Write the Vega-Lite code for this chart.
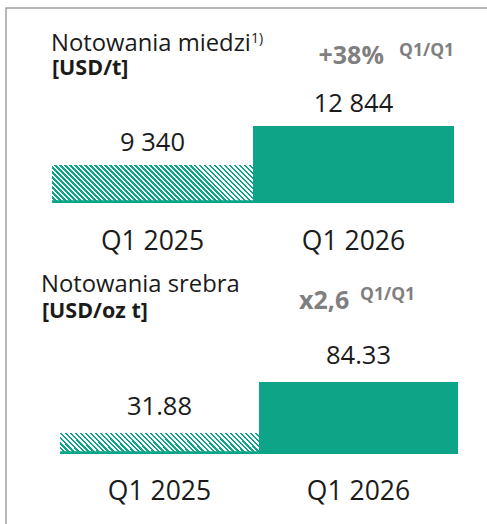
{
"$schema": "https://vega.github.io/schema/vega-lite/v6.json",
"width": 481,
"height": 516,
"autosize": "none",
"padding": {"left": 6, "top": 8, "right": 0, "bottom": 0},
"background": "white",
"config": {
  "view": {"stroke": "#a0a0a0", "strokeWidth": 1.5, "strokeDash": [481, 997, 516]},
  "text": {"font": "Open Sans", "color": "#1b1b1b", "baseline": "alphabetic"},
  "axis": {"disable": true}
},
"datasets": {
  "miedz": [
    {"period": "Q1 2025", "value": 9340, "label": "9 340"},
    {"period": "Q1 2026", "value": 12844, "label": "12 844"}
  ],
  "srebro": [
    {"period": "Q1 2025", "value": 31.88, "label": "31.88"},
    {"period": "Q1 2026", "value": 84.33, "label": "84.33"}
  ]
},
"layer": [
{
  "data": {"name": "miedz"},
  "layer": [
    {
      "transform": [{"filter": "datum.period === 'Q1 2025'"}],
      "mark": {"type": "bar", "fill": {"gradient": "linear", "x1": 0, "y1": 1, "x2": 1.14802, "y2": 0.78297, "stops": [
{"offset":0,"color":"#0da488"},{"offset":0.01146,"color":"#0da488"},{"offset":0.01146,"color":"#fff"},{"offset":0.02083,"color":"#fff"},
{"offset":0.02083,"color":"#0da488"},{"offset":0.03229,"color":"#0da488"},{"offset":0.03229,"color":"#fff"},{"offset":0.04167,"color":"#fff"},
{"offset":0.04167,"color":"#0da488"},{"offset":0.05312,"color":"#0da488"},{"offset":0.05312,"color":"#fff"},{"offset":0.0625,"color":"#fff"},
{"offset":0.0625,"color":"#0da488"},{"offset":0.07396,"color":"#0da488"},{"offset":0.07396,"color":"#fff"},{"offset":0.08333,"color":"#fff"},
{"offset":0.08333,"color":"#0da488"},{"offset":0.09479,"color":"#0da488"},{"offset":0.09479,"color":"#fff"},{"offset":0.10417,"color":"#fff"},
{"offset":0.10417,"color":"#0da488"},{"offset":0.11562,"color":"#0da488"},{"offset":0.11562,"color":"#fff"},{"offset":0.125,"color":"#fff"},
{"offset":0.125,"color":"#0da488"},{"offset":0.13646,"color":"#0da488"},{"offset":0.13646,"color":"#fff"},{"offset":0.14583,"color":"#fff"},
{"offset":0.14583,"color":"#0da488"},{"offset":0.15729,"color":"#0da488"},{"offset":0.15729,"color":"#fff"},{"offset":0.16667,"color":"#fff"},
{"offset":0.16667,"color":"#0da488"},{"offset":0.17812,"color":"#0da488"},{"offset":0.17812,"color":"#fff"},{"offset":0.1875,"color":"#fff"},
{"offset":0.1875,"color":"#0da488"},{"offset":0.19896,"color":"#0da488"},{"offset":0.19896,"color":"#fff"},{"offset":0.20833,"color":"#fff"},
{"offset":0.20833,"color":"#0da488"},{"offset":0.21979,"color":"#0da488"},{"offset":0.21979,"color":"#fff"},{"offset":0.22917,"color":"#fff"},
{"offset":0.22917,"color":"#0da488"},{"offset":0.24062,"color":"#0da488"},{"offset":0.24062,"color":"#fff"},{"offset":0.25,"color":"#fff"},
{"offset":0.25,"color":"#0da488"},{"offset":0.26146,"color":"#0da488"},{"offset":0.26146,"color":"#fff"},{"offset":0.27083,"color":"#fff"},
{"offset":0.27083,"color":"#0da488"},{"offset":0.28229,"color":"#0da488"},{"offset":0.28229,"color":"#fff"},{"offset":0.29167,"color":"#fff"},
{"offset":0.29167,"color":"#0da488"},{"offset":0.30312,"color":"#0da488"},{"offset":0.30312,"color":"#fff"},{"offset":0.3125,"color":"#fff"},
{"offset":0.3125,"color":"#0da488"},{"offset":0.32396,"color":"#0da488"},{"offset":0.32396,"color":"#fff"},{"offset":0.33333,"color":"#fff"},
{"offset":0.33333,"color":"#0da488"},{"offset":0.34479,"color":"#0da488"},{"offset":0.34479,"color":"#fff"},{"offset":0.35417,"color":"#fff"},
{"offset":0.35417,"color":"#0da488"},{"offset":0.36562,"color":"#0da488"},{"offset":0.36562,"color":"#fff"},{"offset":0.375,"color":"#fff"},
{"offset":0.375,"color":"#0da488"},{"offset":0.38646,"color":"#0da488"},{"offset":0.38646,"color":"#fff"},{"offset":0.39583,"color":"#fff"},
{"offset":0.39583,"color":"#0da488"},{"offset":0.40729,"color":"#0da488"},{"offset":0.40729,"color":"#fff"},{"offset":0.41667,"color":"#fff"},
{"offset":0.41667,"color":"#0da488"},{"offset":0.42812,"color":"#0da488"},{"offset":0.42812,"color":"#fff"},{"offset":0.4375,"color":"#fff"},
{"offset":0.4375,"color":"#0da488"},{"offset":0.44896,"color":"#0da488"},{"offset":0.44896,"color":"#fff"},{"offset":0.45833,"color":"#fff"},
{"offset":0.45833,"color":"#0da488"},{"offset":0.46979,"color":"#0da488"},{"offset":0.46979,"color":"#fff"},{"offset":0.47917,"color":"#fff"},
{"offset":0.47917,"color":"#0da488"},{"offset":0.49062,"color":"#0da488"},{"offset":0.49062,"color":"#fff"},{"offset":0.5,"color":"#fff"},
{"offset":0.5,"color":"#0da488"},{"offset":0.51146,"color":"#0da488"},{"offset":0.51146,"color":"#fff"},{"offset":0.52083,"color":"#fff"},
{"offset":0.52083,"color":"#0da488"},{"offset":0.53229,"color":"#0da488"},{"offset":0.53229,"color":"#fff"},{"offset":0.54167,"color":"#fff"},
{"offset":0.54167,"color":"#0da488"},{"offset":0.55312,"color":"#0da488"},{"offset":0.55312,"color":"#fff"},{"offset":0.5625,"color":"#fff"},
{"offset":0.5625,"color":"#0da488"},{"offset":0.57396,"color":"#0da488"},{"offset":0.57396,"color":"#fff"},{"offset":0.58333,"color":"#fff"},
{"offset":0.58333,"color":"#0da488"},{"offset":0.59479,"color":"#0da488"},{"offset":0.59479,"color":"#fff"},{"offset":0.60417,"color":"#fff"},
{"offset":0.60417,"color":"#0da488"},{"offset":0.61562,"color":"#0da488"},{"offset":0.61562,"color":"#fff"},{"offset":0.625,"color":"#fff"},
{"offset":0.625,"color":"#0da488"},{"offset":0.63646,"color":"#0da488"},{"offset":0.63646,"color":"#fff"},{"offset":0.64583,"color":"#fff"},
{"offset":0.64583,"color":"#0da488"},{"offset":0.65729,"color":"#0da488"},{"offset":0.65729,"color":"#fff"},{"offset":0.66667,"color":"#fff"},
{"offset":0.66667,"color":"#0da488"},{"offset":0.67812,"color":"#0da488"},{"offset":0.67812,"color":"#fff"},{"offset":0.6875,"color":"#fff"},
{"offset":0.6875,"color":"#0da488"},{"offset":0.69896,"color":"#0da488"},{"offset":0.69896,"color":"#fff"},{"offset":0.70833,"color":"#fff"},
{"offset":0.70833,"color":"#0da488"},{"offset":0.71979,"color":"#0da488"},{"offset":0.71979,"color":"#fff"},{"offset":0.72917,"color":"#fff"},
{"offset":0.72917,"color":"#0da488"},{"offset":0.74062,"color":"#0da488"},{"offset":0.74062,"color":"#fff"},{"offset":0.75,"color":"#fff"},
{"offset":0.75,"color":"#0da488"},{"offset":0.76146,"color":"#0da488"},{"offset":0.76146,"color":"#fff"},{"offset":0.77083,"color":"#fff"},
{"offset":0.77083,"color":"#0da488"},{"offset":0.78229,"color":"#0da488"},{"offset":0.78229,"color":"#fff"},{"offset":0.79167,"color":"#fff"},
{"offset":0.79167,"color":"#0da488"},{"offset":0.80312,"color":"#0da488"},{"offset":0.80312,"color":"#fff"},{"offset":0.8125,"color":"#fff"},
{"offset":0.8125,"color":"#0da488"},{"offset":0.82396,"color":"#0da488"},{"offset":0.82396,"color":"#fff"},{"offset":0.83333,"color":"#fff"},
{"offset":0.83333,"color":"#0da488"},{"offset":0.84479,"color":"#0da488"},{"offset":0.84479,"color":"#fff"},{"offset":0.85417,"color":"#fff"},
{"offset":0.85417,"color":"#0da488"},{"offset":0.86562,"color":"#0da488"},{"offset":0.86562,"color":"#fff"},{"offset":0.875,"color":"#fff"},
{"offset":0.875,"color":"#0da488"},{"offset":0.88646,"color":"#0da488"},{"offset":0.88646,"color":"#fff"},{"offset":0.89583,"color":"#fff"},
{"offset":0.89583,"color":"#0da488"},{"offset":0.90729,"color":"#0da488"},{"offset":0.90729,"color":"#fff"},{"offset":0.91667,"color":"#fff"},
{"offset":0.91667,"color":"#0da488"},{"offset":0.92812,"color":"#0da488"},{"offset":0.92812,"color":"#fff"},{"offset":0.9375,"color":"#fff"},
{"offset":0.9375,"color":"#0da488"},{"offset":0.94896,"color":"#0da488"},{"offset":0.94896,"color":"#fff"},{"offset":0.95833,"color":"#fff"},
{"offset":0.95833,"color":"#0da488"},{"offset":0.96979,"color":"#0da488"},{"offset":0.96979,"color":"#fff"},{"offset":0.97917,"color":"#fff"},
{"offset":0.97917,"color":"#0da488"},{"offset":0.99062,"color":"#0da488"},{"offset":0.99062,"color":"#fff"},{"offset":1,"color":"#fff"}
      ]}},
      "encoding": {
        "x": {"field": "period", "type": "nominal", "axis": null, "scale": {"domain": ["Q1 2025", "Q1 2026"], "paddingInner": 0, "paddingOuter": 0.19652, "align": 0.58228}},
        "y": {"field": "value", "type": "quantitative", "axis": null, "scale": {"domain": [-22915, 23446], "nice": false, "zero": false}},
        "y2": {"datum": 5926}
      }
    },
    {
      "transform": [{"filter": "datum.period === 'Q1 2026'"}],
      "mark": {"type": "bar", "fill": "#0da488"},
      "encoding": {
        "x": {"field": "period", "type": "nominal", "axis": null},
        "y": {"field": "value", "type": "quantitative", "axis": null},
        "y2": {"datum": 5926}
      }
    },
    {
      "mark": {"type": "bar", "fill": "#0da488"},
      "encoding": {
        "x": {"field": "period", "type": "nominal", "axis": null},
        "y": {"datum": 6166, "axis": null},
        "y2": {"datum": 5926}
      }
    },
    {
      "mark": {"type": "text", "fontSize": 25.5, "dy": -14},
      "encoding": {
        "x": {"field": "period", "type": "nominal", "axis": null},
        "y": {"field": "value", "type": "quantitative", "axis": null},
        "text": {"field": "label"}
      }
    },
    {
      "mark": {"type": "text", "fontSize": 26.5, "dy": 47},
      "encoding": {
        "x": {"field": "period", "type": "nominal", "axis": null},
        "y": {"datum": 5926, "axis": null},
        "text": {"field": "period"}
      }
    },
    {
      "data": {"values": [{"t": "Notowania miedzi"}]},
      "mark": {"type": "text", "fontSize": 23.8, "align": "left", "dx": -1},
      "encoding": {
        "x": {"datum": "Q1 2025", "bandPosition": 0, "axis": null},
        "y": {"datum": 19583, "axis": null},
        "text": {"field": "t"}
      }
    },
    {
      "data": {"values": [{"t": "1)"}]},
      "mark": {"type": "text", "fontSize": 14, "align": "left", "dx": 199, "dy": -8},
      "encoding": {
        "x": {"datum": "Q1 2025", "bandPosition": 0, "axis": null},
        "y": {"datum": 19583, "axis": null},
        "text": {"field": "t"}
      }
    },
    {
      "data": {"values": [{"t": "[USD/t]"}]},
      "mark": {"type": "text", "fontSize": 21.5, "fontWeight": "bold", "align": "left", "dx": 0},
      "encoding": {
        "x": {"datum": "Q1 2025", "bandPosition": 0, "axis": null},
        "y": {"datum": 17453, "axis": null},
        "text": {"field": "t"}
      }
    },
    {
      "data": {"values": [{"t": "+38%"}]},
      "mark": {"type": "text", "fontSize": 25, "fontWeight": "bold", "color": "#7f7f7f", "align": "left", "dx": 65.5},
      "encoding": {
        "x": {"datum": "Q1 2026", "bandPosition": 0, "axis": null},
        "y": {"datum": 18388, "axis": null},
        "text": {"field": "t"}
      }
    },
    {
      "data": {"values": [{"t": "Q1/Q1"}]},
      "mark": {"type": "text", "fontSize": 17.5, "fontWeight": "bold", "color": "#7f7f7f", "align": "left", "dx": 146},
      "encoding": {
        "x": {"datum": "Q1 2026", "bandPosition": 0, "axis": null},
        "y": {"datum": 19133, "axis": null},
        "text": {"field": "t"}
      }
    }
  ]
},
{
  "data": {"name": "srebro"},
  "layer": [
    {
      "transform": [{"filter": "datum.period === 'Q1 2025'"}],
      "mark": {"type": "bar", "fill": {"gradient": "linear", "x1": 0, "y1": 1, "x2": 1.09335, "y2": 0.88462, "stops": [
{"offset":0,"color":"#0da488"},{"offset":0.0125,"color":"#0da488"},{"offset":0.0125,"color":"#fff"},{"offset":0.02273,"color":"#fff"},
{"offset":0.02273,"color":"#0da488"},{"offset":0.03523,"color":"#0da488"},{"offset":0.03523,"color":"#fff"},{"offset":0.04545,"color":"#fff"},
{"offset":0.04545,"color":"#0da488"},{"offset":0.05795,"color":"#0da488"},{"offset":0.05795,"color":"#fff"},{"offset":0.06818,"color":"#fff"},
{"offset":0.06818,"color":"#0da488"},{"offset":0.08068,"color":"#0da488"},{"offset":0.08068,"color":"#fff"},{"offset":0.09091,"color":"#fff"},
{"offset":0.09091,"color":"#0da488"},{"offset":0.10341,"color":"#0da488"},{"offset":0.10341,"color":"#fff"},{"offset":0.11364,"color":"#fff"},
{"offset":0.11364,"color":"#0da488"},{"offset":0.12614,"color":"#0da488"},{"offset":0.12614,"color":"#fff"},{"offset":0.13636,"color":"#fff"},
{"offset":0.13636,"color":"#0da488"},{"offset":0.14886,"color":"#0da488"},{"offset":0.14886,"color":"#fff"},{"offset":0.15909,"color":"#fff"},
{"offset":0.15909,"color":"#0da488"},{"offset":0.17159,"color":"#0da488"},{"offset":0.17159,"color":"#fff"},{"offset":0.18182,"color":"#fff"},
{"offset":0.18182,"color":"#0da488"},{"offset":0.19432,"color":"#0da488"},{"offset":0.19432,"color":"#fff"},{"offset":0.20455,"color":"#fff"},
{"offset":0.20455,"color":"#0da488"},{"offset":0.21705,"color":"#0da488"},{"offset":0.21705,"color":"#fff"},{"offset":0.22727,"color":"#fff"},
{"offset":0.22727,"color":"#0da488"},{"offset":0.23977,"color":"#0da488"},{"offset":0.23977,"color":"#fff"},{"offset":0.25,"color":"#fff"},
{"offset":0.25,"color":"#0da488"},{"offset":0.2625,"color":"#0da488"},{"offset":0.2625,"color":"#fff"},{"offset":0.27273,"color":"#fff"},
{"offset":0.27273,"color":"#0da488"},{"offset":0.28523,"color":"#0da488"},{"offset":0.28523,"color":"#fff"},{"offset":0.29545,"color":"#fff"},
{"offset":0.29545,"color":"#0da488"},{"offset":0.30795,"color":"#0da488"},{"offset":0.30795,"color":"#fff"},{"offset":0.31818,"color":"#fff"},
{"offset":0.31818,"color":"#0da488"},{"offset":0.33068,"color":"#0da488"},{"offset":0.33068,"color":"#fff"},{"offset":0.34091,"color":"#fff"},
{"offset":0.34091,"color":"#0da488"},{"offset":0.35341,"color":"#0da488"},{"offset":0.35341,"color":"#fff"},{"offset":0.36364,"color":"#fff"},
{"offset":0.36364,"color":"#0da488"},{"offset":0.37614,"color":"#0da488"},{"offset":0.37614,"color":"#fff"},{"offset":0.38636,"color":"#fff"},
{"offset":0.38636,"color":"#0da488"},{"offset":0.39886,"color":"#0da488"},{"offset":0.39886,"color":"#fff"},{"offset":0.40909,"color":"#fff"},
{"offset":0.40909,"color":"#0da488"},{"offset":0.42159,"color":"#0da488"},{"offset":0.42159,"color":"#fff"},{"offset":0.43182,"color":"#fff"},
{"offset":0.43182,"color":"#0da488"},{"offset":0.44432,"color":"#0da488"},{"offset":0.44432,"color":"#fff"},{"offset":0.45455,"color":"#fff"},
{"offset":0.45455,"color":"#0da488"},{"offset":0.46705,"color":"#0da488"},{"offset":0.46705,"color":"#fff"},{"offset":0.47727,"color":"#fff"},
{"offset":0.47727,"color":"#0da488"},{"offset":0.48977,"color":"#0da488"},{"offset":0.48977,"color":"#fff"},{"offset":0.5,"color":"#fff"},
{"offset":0.5,"color":"#0da488"},{"offset":0.5125,"color":"#0da488"},{"offset":0.5125,"color":"#fff"},{"offset":0.52273,"color":"#fff"},
{"offset":0.52273,"color":"#0da488"},{"offset":0.53523,"color":"#0da488"},{"offset":0.53523,"color":"#fff"},{"offset":0.54545,"color":"#fff"},
{"offset":0.54545,"color":"#0da488"},{"offset":0.55795,"color":"#0da488"},{"offset":0.55795,"color":"#fff"},{"offset":0.56818,"color":"#fff"},
{"offset":0.56818,"color":"#0da488"},{"offset":0.58068,"color":"#0da488"},{"offset":0.58068,"color":"#fff"},{"offset":0.59091,"color":"#fff"},
{"offset":0.59091,"color":"#0da488"},{"offset":0.60341,"color":"#0da488"},{"offset":0.60341,"color":"#fff"},{"offset":0.61364,"color":"#fff"},
{"offset":0.61364,"color":"#0da488"},{"offset":0.62614,"color":"#0da488"},{"offset":0.62614,"color":"#fff"},{"offset":0.63636,"color":"#fff"},
{"offset":0.63636,"color":"#0da488"},{"offset":0.64886,"color":"#0da488"},{"offset":0.64886,"color":"#fff"},{"offset":0.65909,"color":"#fff"},
{"offset":0.65909,"color":"#0da488"},{"offset":0.67159,"color":"#0da488"},{"offset":0.67159,"color":"#fff"},{"offset":0.68182,"color":"#fff"},
{"offset":0.68182,"color":"#0da488"},{"offset":0.69432,"color":"#0da488"},{"offset":0.69432,"color":"#fff"},{"offset":0.70455,"color":"#fff"},
{"offset":0.70455,"color":"#0da488"},{"offset":0.71705,"color":"#0da488"},{"offset":0.71705,"color":"#fff"},{"offset":0.72727,"color":"#fff"},
{"offset":0.72727,"color":"#0da488"},{"offset":0.73977,"color":"#0da488"},{"offset":0.73977,"color":"#fff"},{"offset":0.75,"color":"#fff"},
{"offset":0.75,"color":"#0da488"},{"offset":0.7625,"color":"#0da488"},{"offset":0.7625,"color":"#fff"},{"offset":0.77273,"color":"#fff"},
{"offset":0.77273,"color":"#0da488"},{"offset":0.78523,"color":"#0da488"},{"offset":0.78523,"color":"#fff"},{"offset":0.79545,"color":"#fff"},
{"offset":0.79545,"color":"#0da488"},{"offset":0.80795,"color":"#0da488"},{"offset":0.80795,"color":"#fff"},{"offset":0.81818,"color":"#fff"},
{"offset":0.81818,"color":"#0da488"},{"offset":0.83068,"color":"#0da488"},{"offset":0.83068,"color":"#fff"},{"offset":0.84091,"color":"#fff"},
{"offset":0.84091,"color":"#0da488"},{"offset":0.85341,"color":"#0da488"},{"offset":0.85341,"color":"#fff"},{"offset":0.86364,"color":"#fff"},
{"offset":0.86364,"color":"#0da488"},{"offset":0.87614,"color":"#0da488"},{"offset":0.87614,"color":"#fff"},{"offset":0.88636,"color":"#fff"},
{"offset":0.88636,"color":"#0da488"},{"offset":0.89886,"color":"#0da488"},{"offset":0.89886,"color":"#fff"},{"offset":0.90909,"color":"#fff"},
{"offset":0.90909,"color":"#0da488"},{"offset":0.92159,"color":"#0da488"},{"offset":0.92159,"color":"#fff"},{"offset":0.93182,"color":"#fff"},
{"offset":0.93182,"color":"#0da488"},{"offset":0.94432,"color":"#0da488"},{"offset":0.94432,"color":"#fff"},{"offset":0.95455,"color":"#fff"},
{"offset":0.95455,"color":"#0da488"},{"offset":0.96705,"color":"#0da488"},{"offset":0.96705,"color":"#fff"},{"offset":0.97727,"color":"#fff"},
{"offset":0.97727,"color":"#0da488"},{"offset":0.98977,"color":"#0da488"},{"offset":0.98977,"color":"#fff"},{"offset":1,"color":"#fff"}
      ]}},
      "encoding": {
        "x": {"field": "period", "type": "nominal", "axis": null, "scale": {"domain": ["Q1 2025", "Q1 2026"], "paddingInner": 0, "paddingOuter": 0.20854, "align": 0.6506}},
        "y": {"field": "value", "type": "quantitative", "axis": null, "scale": {"domain": [-61.71, 468.96], "nice": false, "zero": false}},
        "y2": {"datum": 10.28}
      }
    },
    {
      "transform": [{"filter": "datum.period === 'Q1 2026'"}],
      "mark": {"type": "bar", "fill": "#0da488"},
      "encoding": {
        "x": {"field": "period", "type": "nominal", "axis": null},
        "y": {"field": "value", "type": "quantitative", "axis": null},
        "y2": {"datum": 10.28}
      }
    },
    {
      "mark": {"type": "bar", "fill": "#0da488"},
      "encoding": {
        "x": {"field": "period", "type": "nominal", "axis": null},
        "y": {"datum": 13.02, "axis": null},
        "y2": {"datum": 10.28}
      }
    },
    {
      "mark": {"type": "text", "fontSize": 25.5, "dy": -18},
      "encoding": {
        "x": {"field": "period", "type": "nominal", "axis": null},
        "y": {"field": "value", "type": "quantitative", "axis": null},
        "text": {"field": "label"}
      }
    },
    {
      "mark": {"type": "text", "fontSize": 26.5, "dy": 46},
      "encoding": {
        "x": {"field": "period", "type": "nominal", "axis": null},
        "y": {"datum": 10.28, "axis": null},
        "text": {"field": "period"}
      }
    },
    {
      "data": {"values": [{"t": "Notowania srebra"}]},
      "mark": {"type": "text", "fontSize": 23.8, "align": "left", "dx": -19},
      "encoding": {
        "x": {"datum": "Q1 2025", "bandPosition": 0, "axis": null},
        "y": {"datum": 177.19, "axis": null},
        "text": {"field": "t"}
      }
    },
    {
      "data": {"values": [{"t": "[USD/oz t]"}]},
      "mark": {"type": "text", "fontSize": 21.5, "fontWeight": "bold", "align": "left", "dx": -18},
      "encoding": {
        "x": {"datum": "Q1 2025", "bandPosition": 0, "axis": null},
        "y": {"datum": 150.6, "axis": null},
        "text": {"field": "t"}
      }
    },
    {
      "data": {"values": [{"t": "x2,6"}]},
      "mark": {"type": "text", "fontSize": 25, "fontWeight": "bold", "color": "#7f7f7f", "align": "left", "dx": 40},
      "encoding": {
        "x": {"datum": "Q1 2026", "bandPosition": 0, "axis": null},
        "y": {"datum": 159.4, "axis": null},
        "text": {"field": "t"}
      }
    },
    {
      "data": {"values": [{"t": "Q1/Q1"}]},
      "mark": {"type": "text", "fontSize": 17.5, "fontWeight": "bold", "color": "#7f7f7f", "align": "left", "dx": 101},
      "encoding": {
        "x": {"datum": "Q1 2026", "bandPosition": 0, "axis": null},
        "y": {"datum": 168.66, "axis": null},
        "text": {"field": "t"}
      }
    }
  ]
}
],
"resolve": {"scale": {"x": "independent", "y": "independent"}}
}
